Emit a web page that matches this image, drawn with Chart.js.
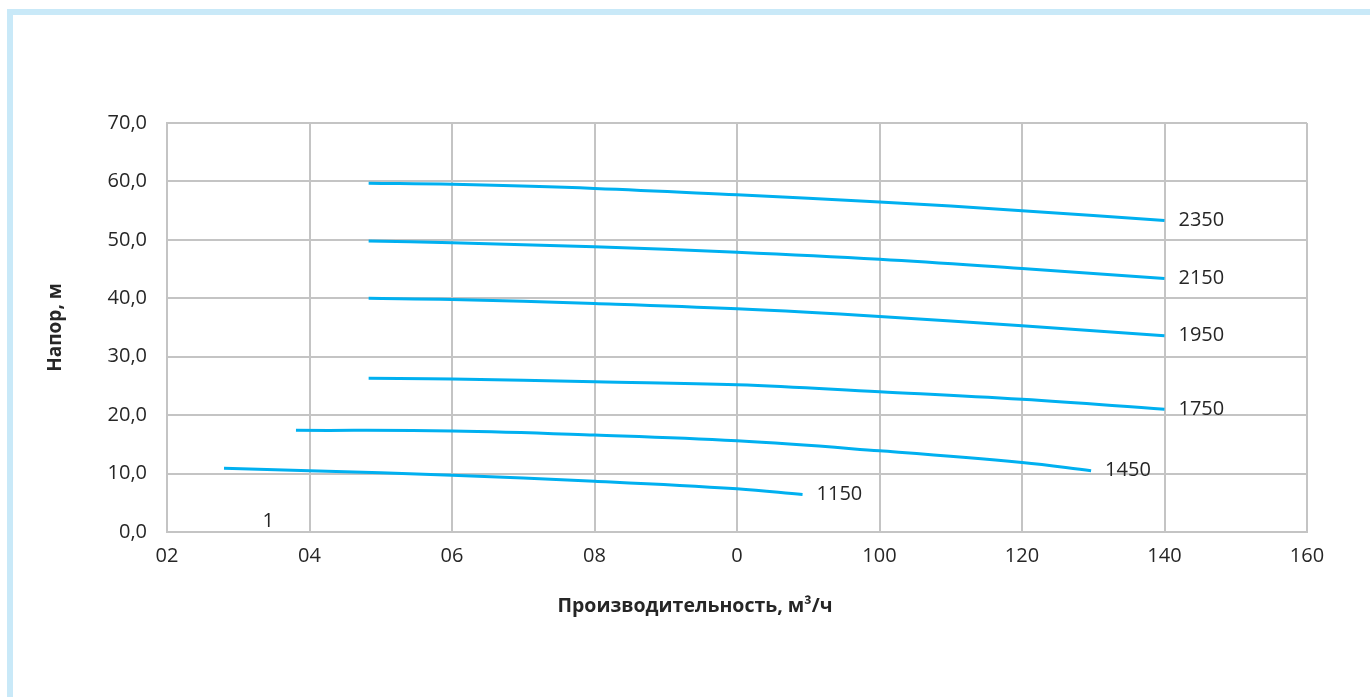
<!DOCTYPE html>
<html>
<head>
<meta charset="utf-8">
<script src="https://cdn.jsdelivr.net/npm/chart.js@4.4.1/dist/chart.umd.min.js"></script>
<style>
    html, body { margin: 0; padding: 0; background: #fff; overflow: hidden; }
    #frame {
        position: absolute; left: 7px; top: 9px;
        width: 1420px; height: 760px;
        border-left: 6px solid #c9e9f8; border-top: 6px solid #c9e9f8;
    }
    #pump-chart { position: absolute; left: 0; top: 0; }
</style>
</head>
<body>
<div id="frame"></div>
<canvas id="pump-chart" width="1370" height="697"></canvas>
<script>
// x axis tick labels (as printed on the original, garbled)
const xTickLabels = ['02', '04', '06', '08', '0', '100', '120', '140', '160'];
const yTickLabels = ['0,0', '10,0', '20,0', '30,0', '40,0', '50,0', '60,0', '70,0'];

// curve names (rpm) written at the end of each curve
const curveNames = ['2350', '2150', '1950', '1750', '1450', '1150'];

// flow, m3/h and head, m for each curve
const q2350 = [28.3, 40, 60, 80, 100, 120, 140];
const h2350 = [59.7, 59.5, 58.8, 57.7, 56.5, 55.0, 53.3];
const q2150 = [28.3, 40, 60, 80, 100, 120, 140];
const h2150 = [49.8, 49.5, 48.8, 47.9, 46.7, 45.1, 43.4];
const q1950 = [28.3, 40, 60, 80, 100, 120, 140];
const h1950 = [40.0, 39.8, 39.1, 38.2, 36.9, 35.3, 33.6];
const q1750 = [28.3, 40, 60, 80, 100, 120, 140];
const h1750 = [26.3, 26.2, 25.7, 25.2, 24.0, 22.7, 21.0];
const q1450 = [18.1, 40, 60, 80, 100, 120, 129.7];
const h1450 = [17.4, 17.3, 16.6, 15.6, 13.9, 11.9, 10.5];
const q1150 = [8.0, 20, 40, 60, 80, 89.2];
const h1150 = [10.9, 10.5, 9.7, 8.7, 7.4, 6.4];

// stray label "1" near the bottom of the plot
const noteText = '1';
const noteQ = 14.2;
const noteH = 1.9;

const xTitle = 'Производительность, м³/ч';

const FONT = "'Open Sans', sans-serif";
const TEXT_COLOR = '#262626';

function toPoints(qs, hs) {
    return qs.map((q, i) => ({ x: q, y: hs[i] }));
}

const series = [
    toPoints(q2350, h2350),
    toPoints(q2150, h2150),
    toPoints(q1950, h1950),
    toPoints(q1750, h1750),
    toPoints(q1450, h1450),
    toPoints(q1150, h1150)
];

const datasets = series.map((pts, i) => ({
    label: curveNames[i],
    data: pts,
    borderColor: '#00b0f0',
    borderWidth: 3,
    pointRadius: 0,
    fill: false,
    tension: 0.4
}));

// writes the rpm at the end of each curve, the lone "1" and the x title
const endLabels = {
    id: 'endLabels',
    afterDatasetsDraw(chart) {
        const ctx = chart.ctx;
        const xs = chart.scales.x;
        const ys = chart.scales.y;
        ctx.save();
        ctx.font = '20px ' + FONT;
        ctx.fillStyle = TEXT_COLOR;
        ctx.textAlign = 'left';
        ctx.textBaseline = 'middle';
        chart.data.datasets.forEach((ds) => {
            const last = ds.data[ds.data.length - 1];
            ctx.fillText(ds.label, xs.getPixelForValue(last.x) + 14, ys.getPixelForValue(last.y));
        });
        ctx.textAlign = 'center';
        ctx.fillText(noteText, xs.getPixelForValue(noteQ), ys.getPixelForValue(noteH));

        // axis title sits a bit left of the plot centre in the original
        ctx.font = 'bold 19.5px ' + FONT;
        ctx.fillText(xTitle, (xs.left + xs.right) / 2 - 42, xs.bottom - 16);
        ctx.restore();
    }
};

new Chart(document.getElementById('pump-chart'), {
    type: 'line',
    data: { datasets: datasets },
    plugins: [endLabels],
    options: {
        responsive: false,
        animation: false,
        layout: { padding: { left: 30, top: 123, right: 63, bottom: 75 } },
        plugins: {
            legend: { display: false },
            tooltip: { enabled: false }
        },
        scales: {
            x: {
                type: 'linear',
                min: 0,
                max: 160,
                afterFit: (scale) => { scale.height = 90; },
                ticks: {
                    stepSize: 20,
                    padding: 12,
                    color: TEXT_COLOR,
                    font: { family: FONT, size: 20 },
                    callback: (value) => xTickLabels[value / 20]
                },
                grid: { color: '#c4c4c4', lineWidth: 2, drawTicks: false },
                border: { color: '#c4c4c4', width: 2 }
            },
            y: {
                min: 0,
                max: 70,
                afterFit: (scale) => { scale.width = 137; },
                ticks: {
                    stepSize: 10,
                    padding: 20,
                    color: TEXT_COLOR,
                    font: { family: FONT, size: 20 },
                    callback: (value) => yTickLabels[value / 10]
                },
                grid: { color: '#c4c4c4', lineWidth: 2, drawTicks: false },
                border: { color: '#c4c4c4', width: 2 },
                title: {
                    display: true,
                    text: 'Напор, м',
                    color: TEXT_COLOR,
                    font: { family: FONT, size: 19, weight: 'bold' },
                    padding: { top: 14, bottom: 14 }
                }
            }
        }
    }
});
</script>
</body>
</html>
